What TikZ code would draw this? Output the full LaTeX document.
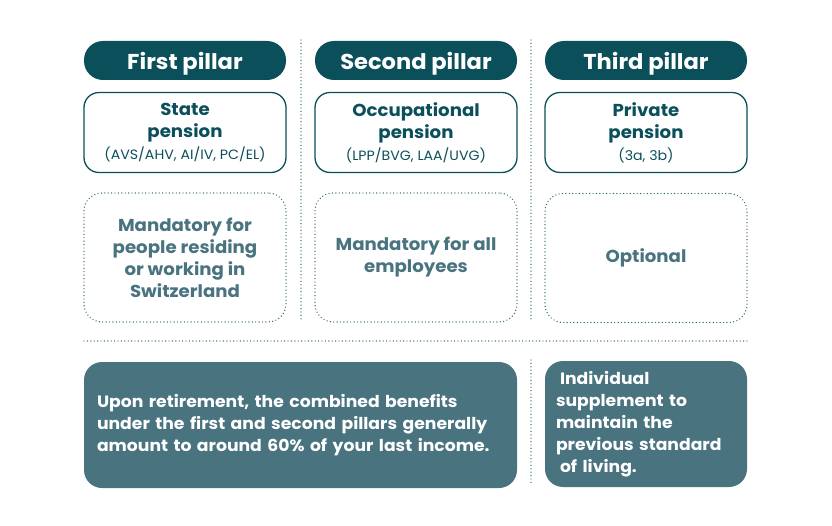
\documentclass[tikz,border=0pt]{standalone}
\usepackage{fontspec}
\setmainfont{Poppins}[FakeStretch=1.05]
\definecolor{dteal}{HTML}{0B4F5B}
\definecolor{mteal}{HTML}{48737F}
\definecolor{dotc}{HTML}{2E6470}
\newcommand{\subsmall}{\fontsize{13.5}{15}\selectfont\mdseries}
\begin{document}
\begin{tikzpicture}[x=1pt,y=-1pt,
  header/.style={fill=dteal,text=white,rounded corners=19pt,minimum width=202pt,minimum height=39pt,inner sep=0pt,text depth=0pt,font=\fontsize{21.5}{24}\selectfont\bfseries},
  sub/.style={draw=dteal,line width=1.3pt,rounded corners=15pt,minimum width=202pt,minimum height=80pt,inner sep=0pt,text=dteal,align=center,font=\fontsize{17.3}{22}\selectfont\bfseries},
  dotbox/.style={draw=dotc,line width=1.4pt,line cap=round,dash pattern=on 0pt off 3.4pt,rounded corners=18pt,minimum width=202pt,minimum height=129pt,inner sep=0pt,text=mteal,align=center,font=\fontsize{17.3}{22}\selectfont\bfseries},
  dotline/.style={draw=dotc,line width=1.4pt,line cap=round,dash pattern=on 0pt off 3.4pt},
  bot/.style={fill=mteal,text=white,rounded corners=18pt,minimum height=126pt,inner sep=0pt,align=left,font=\fontsize{16.4}{22}\selectfont\bfseries}
]
\useasboundingbox (0,0) rectangle (832,526);
\node[header] (h1) at (185,60.5) {First pillar};
\node[header] (h2) at (416,60.5) {Second pillar};
\node[header] (h3) at (646,60.5) {Third pillar};
\node[sub] (s1) at (185,132.5) {State\\pension\\[0pt]\subsmall (AVS/AHV, AI/IV, PC/EL)};
\node[sub] (s2) at (416,132.5) {Occupational\\pension\\[0pt]\subsmall (LPP/BVG, LAA/UVG)};
\node[sub] (s3) at (646,132.5) {Private\\pension\\[0pt]\subsmall (3a, 3b)};
\node[dotbox] (d1) at (185,257.5) {Mandatory for\\people residing\\or working in\\Switzerland};
\node[dotbox] (d2) at (416,257.5) {Mandatory for all\\employees};
\node[dotbox] (d3) at (646,258) {Optional};
\coordinate (v1a) at (301,40); \coordinate (v1b) at (301,322);
\coordinate (v2a) at (531,40); \coordinate (v2b) at (531,322);
\coordinate (v3a) at (531,360); \coordinate (v3b) at (531,485);
\coordinate (ha) at (84,341); \coordinate (hb) at (747,341);
\draw[dotline] (v1a) -- (v1b);
\draw[dotline] (v2a) -- (v2b);
\draw[dotline] (v3a) -- (v3b);
\draw[dotline] (ha) -- (hb);
\node[bot,minimum width=433pt,text width=407pt] (b1) at (300.5,425) {Upon retirement, the combined benefits\\under the first and second pillars generally\\amount to around 60\% of your last income.};
\node[bot,minimum width=202pt,text width=180pt] (b2) at (646,424) {\hspace*{4pt}Individual\\supplement to\\maintain the\\previous standard\\\hspace*{4pt}of living.};
\end{tikzpicture}
\end{document}
